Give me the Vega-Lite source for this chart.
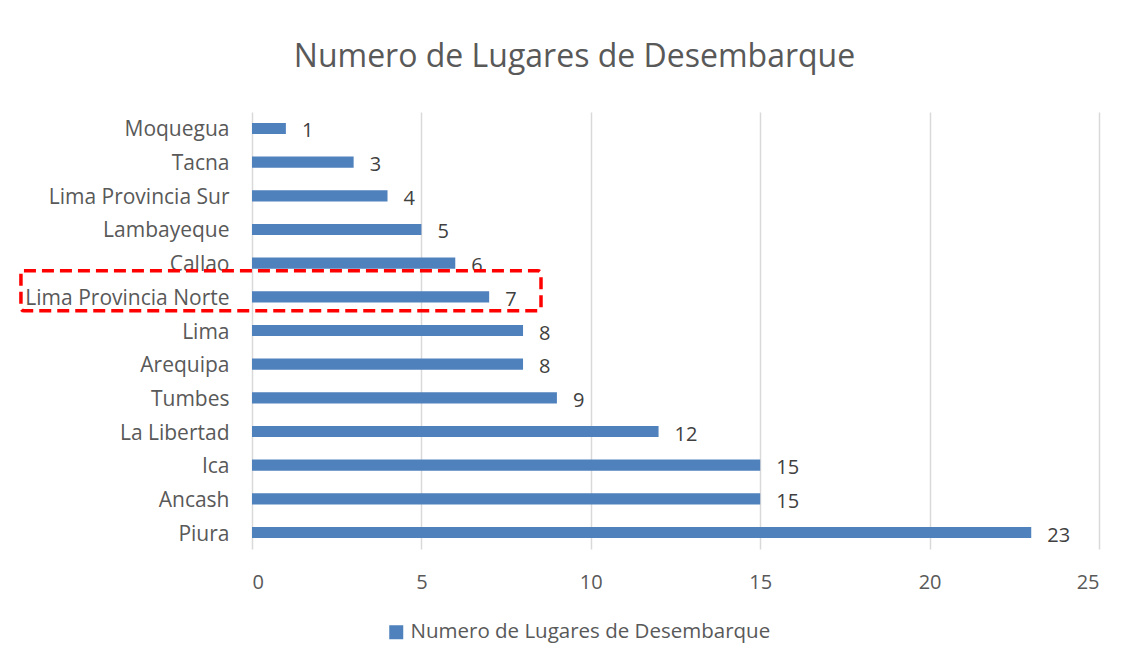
{
  "$schema": "https://vega.github.io/schema/vega-lite/v6.json",
  "autosize": {"type": "none"},
  "width": 847,
  "height": 437,
  "padding": {"left": 252, "top": 112, "right": 35, "bottom": 116},
  "background": "white",
  "config": {
    "font": "Open Sans",
    "view": {"stroke": null}
  },
  "title": {
    "text": "Numero de Lugares de Desembarque",
    "fontSize": 32,
    "fontWeight": "normal",
    "color": "#595959",
    "anchor": "middle",
    "frame": "group",
    "dx": -101,
    "baseline": "alphabetic",
    "offset": 13
  },
  "data": {
    "values": [
      {"region": "Moquegua", "valor": 1},
      {"region": "Tacna", "valor": 3},
      {"region": "Lima Provincia Sur", "valor": 4},
      {"region": "Lambayeque", "valor": 5},
      {"region": "Callao", "valor": 6},
      {"region": "Lima Provincia Norte", "valor": 7},
      {"region": "Lima", "valor": 8},
      {"region": "Arequipa", "valor": 8},
      {"region": "Tumbes", "valor": 9},
      {"region": "La Libertad", "valor": 12},
      {"region": "Ica", "valor": 15},
      {"region": "Ancash", "valor": 15},
      {"region": "Piura", "valor": 23}
    ]
  },
  "layer": [
    {
      "mark": {"type": "bar"},
      "encoding": {
        "y": {
          "field": "region",
          "type": "nominal",
          "sort": null,
          "scale": {"paddingInner": 0.67, "paddingOuter": 0.325},
          "axis": {
            "title": null,
            "domain": false,
            "ticks": false,
            "grid": false,
            "labelFontSize": 21,
            "labelColor": "#595959",
            "labelPadding": 23,
            "labelOffset": 2,
            "labelLimit": 0
          }
        },
        "x": {
          "field": "valor",
          "type": "quantitative",
          "scale": {"domain": [0, 25], "nice": false},
          "axis": {
            "title": null,
            "values": [0, 5, 10, 15, 20, 25],
            "domain": false,
            "ticks": false,
            "grid": true,
            "gridColor": "#d9d9d9",
            "gridWidth": 1.5,
            "labelFontSize": 20,
            "labelColor": "#595959",
            "labelPadding": 23
          }
        },
        "color": {
          "datum": "Numero de Lugares de Desembarque",
          "type": "nominal",
          "scale": {"range": ["#4F81BD"]},
          "legend": {
            "title": null,
            "orient": "none",
            "legendX": 134,
            "legendY": 510,
            "symbolType": "square",
            "symbolSize": 196,
            "symbolStrokeWidth": 0,
            "labelFontSize": 20.5,
            "labelColor": "#595959",
            "labelOffset": 4,
            "labelLimit": 0
          }
        }
      }
    },
    {
      "mark": {"type": "text", "align": "left", "baseline": "middle", "dx": 16, "dy": 3, "fontSize": 20, "color": "#404040"},
      "encoding": {
        "y": {"field": "region", "type": "nominal", "sort": null},
        "x": {"field": "valor", "type": "quantitative"},
        "text": {"field": "valor", "type": "quantitative"}
      }
    },
    {
      "data": {"values": [{"region": "Lima Provincia Norte"}]},
      "mark": {"type": "bar", "height": 40, "yOffset": -6, "fill": null, "fillOpacity": 0, "stroke": "#FF0000", "strokeWidth": 3.5, "strokeDash": [12, 6], "cornerRadius": 3},
      "encoding": {
        "y": {"field": "region", "type": "nominal", "sort": null},
        "x": {"datum": -6.82, "type": "quantitative"},
        "x2": {"datum": 8.53}
      }
    }
  ]
}
